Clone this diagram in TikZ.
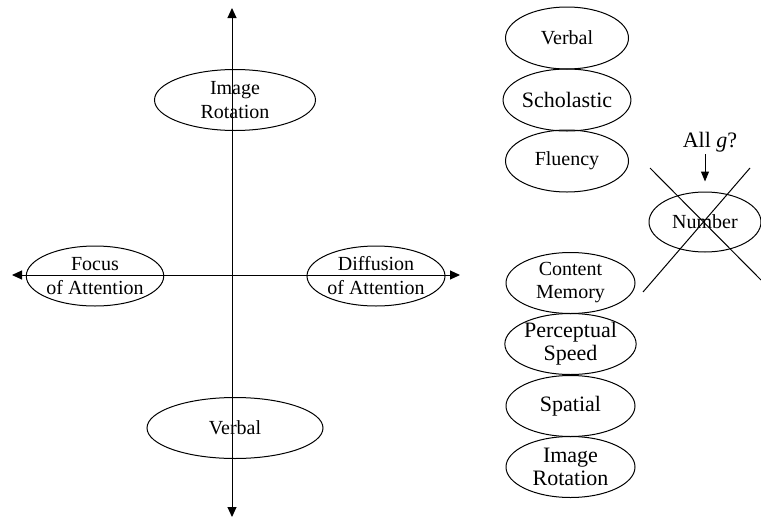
\documentclass[tikz,border=0pt]{standalone}
\usepackage{fontspec}
\setmainfont{Liberation Serif}
\usetikzlibrary{arrows.meta,shapes.geometric}
\newcommand{\smallfont}{\fontsize{10}{12}\selectfont}
\newcommand{\bigfont}{\fontsize{11}{11.5}\selectfont}
\tikzset{
	oval/.style={draw, ellipse, inner sep=0pt, align=center, line width=0.5pt},
	axis/.style={line width=0.5pt, {Triangle[length=5pt,width=4.5pt]}-{Triangle[length=5pt,width=4.5pt]}},
	pointer/.style={line width=0.5pt, -{Triangle[length=5pt,width=4pt]}},
	crossline/.style={line width=0.5pt}
}

\begin{document}
\begin{tikzpicture}[x=0.5pt, y=-0.5pt]
		%%%%% START %%%%%
		\useasboundingbox (0,0) rectangle (761,520);
		
		% axes
		\coordinate (up) at (232,8);
		\coordinate (down) at (232,517);
		\coordinate (left) at (12,275);
		\coordinate (right) at (460,275);
		\draw[axis] (down) -- (up);
		\draw[axis] (left) -- (right);
		
		\node[oval, minimum width=80.5pt, minimum height=30.5pt, font=\smallfont] (rotL) at (235,100) {Image\\Rotation};
		\node[oval, minimum width=68.5pt, minimum height=30pt, font=\smallfont] (focus) at (95,276) {Focus\\of Attention};
		\node[oval, minimum width=69pt, minimum height=30pt, font=\smallfont] (diff) at (376,276) {Diffusion\\of Attention};
		\node[oval, minimum width=88pt, minimum height=30.5pt, font=\smallfont] (verbL) at (235,428) {Verbal};
		
		% right column
		\node[oval, minimum width=61.5pt, minimum height=31pt, font=\smallfont] (verbR) at (567,38) {Verbal};
		\node[oval, minimum width=61.5pt, minimum height=31pt, font=\bigfont] (schol) at (567,100) {Scholastic};
		\node[oval, minimum width=61.5pt, minimum height=31pt, font=\smallfont] (flu) at (567,161) {Fluency};
		\node[oval, minimum width=64.5pt, minimum height=30.5pt, font=\fontsize{10}{11.5}\selectfont] (mem) at (570.5,283) {Content\\Memory};
		\node[oval, minimum width=64.5pt, minimum height=30.5pt, font=\bigfont] (speed) at (570.5,344) {Perceptual\\Speed};
		\node[oval, minimum width=64.5pt, minimum height=30.5pt, font=\bigfont] (spat) at (570.5,406) {Spatial};
		\node[oval, minimum width=64.5pt, minimum height=30.5pt, font=\bigfont] (rotR) at (570.5,467) {Image\\Rotation};
		
		% crossed out
		\node[oval, minimum width=56pt, minimum height=30pt, font=\smallfont] (num) at (705,222) {Number};
		\node[inner sep=1pt, anchor=base, font=\bigfont] (allg) at (710,147) {All \textit{g}?};
		\draw[pointer, shorten >=5pt] (allg.south -| num.north) -- (num.north);
		
		\coordinate (xa) at (650,168);
		\coordinate (xb) at (761,280);
		\coordinate (xc) at (750,168);
		\coordinate (xd) at (643,292);
		\draw[crossline] (xa) -- (xb);
		\draw[crossline] (xc) -- (xd);
		
		%%%%% END %%%%%
\end{tikzpicture}
\end{document}
